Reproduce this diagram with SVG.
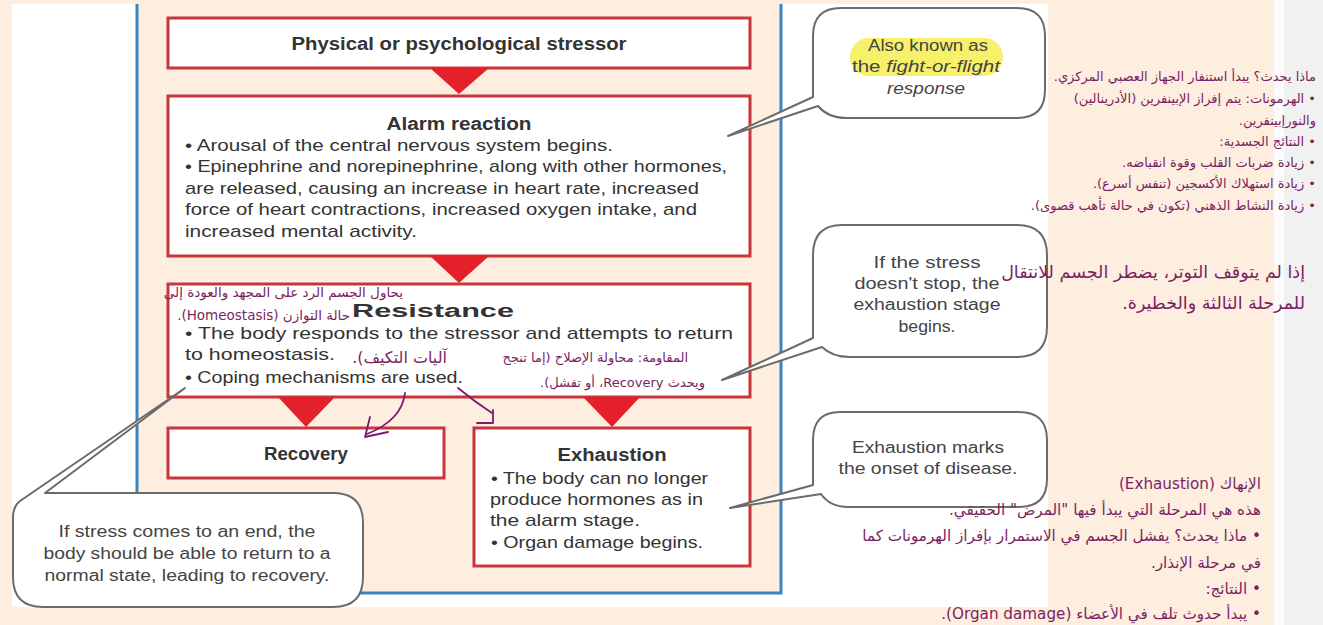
<svg xmlns="http://www.w3.org/2000/svg" width="1323" height="625" viewBox="0 0 1323 625">
<style>
.box{fill:#fff;stroke:#c8363b;stroke-width:3}
.tri{fill:#e4212a}
.bub{fill:#fff;stroke:#6b6b6b;stroke-width:2;stroke-linejoin:round}
.en{font-family:"Liberation Sans",Arial,sans-serif;fill:#333;font-size:17px}
.ttl{font-weight:bold;font-size:18px;text-anchor:middle}
.bt{font-family:"Liberation Sans",Arial,sans-serif;fill:#444;font-size:16px;text-anchor:middle}
.ar{font-family:"DejaVu Sans",sans-serif;fill:#7a1f60;direction:rtl;text-anchor:start}
.pa{fill:none;stroke:#7a1a6e;stroke-width:1.8;stroke-linecap:round;stroke-linejoin:round}
</style>
<!-- background -->
<rect x="0" y="0" width="1323" height="625" fill="#fdeee0"/>
<rect x="1274" y="0" width="49" height="625" fill="#fbfbfb"/>
<rect x="1284" y="0" width="39" height="625" fill="#f1f1f1"/>
<rect x="12" y="4" width="1036" height="603" fill="#fff"/>
<rect x="138" y="4" width="643" height="589" fill="#fdeee0"/>
<g fill="none" stroke="#3a85c0" stroke-width="3">
<path d="M137,4 V593 H781 V4"/>
</g>

<g id="stressor">
<rect class="box" x="168" y="18" width="582" height="50"/>
<text class="en ttl" x="459" y="50" textLength="335" lengthAdjust="spacingAndGlyphs">Physical or psychological stressor</text>
</g>

<g id="alarm">
<rect class="box" x="168" y="96" width="582" height="160"/>
<text class="en ttl" x="459" y="130" textLength="145" lengthAdjust="spacingAndGlyphs">Alarm reaction</text>
<text class="en" x="185" y="151" textLength="428" lengthAdjust="spacingAndGlyphs">• Arousal of the central nervous system begins.</text>
<text class="en" x="185" y="172" textLength="542" lengthAdjust="spacingAndGlyphs">• Epinephrine and norepinephrine, along with other hormones,</text>
<text class="en" x="185" y="194" textLength="514" lengthAdjust="spacingAndGlyphs">are released, causing an increase in heart rate, increased</text>
<text class="en" x="185" y="215" textLength="512" lengthAdjust="spacingAndGlyphs">force of heart contractions, increased oxygen intake, and</text>
<text class="en" x="185" y="237" textLength="232" lengthAdjust="spacingAndGlyphs">increased mental activity.</text>
</g>

<g id="resistance">
<rect class="box" x="168" y="284" width="582" height="113"/>
<text class="en ttl" x="433" y="317" textLength="162" lengthAdjust="spacingAndGlyphs">Resistance</text>
<text class="en" x="185" y="339" textLength="548" lengthAdjust="spacingAndGlyphs">• The body responds to the stressor and attempts to return</text>
<text class="en" x="185" y="360" textLength="150" lengthAdjust="spacingAndGlyphs">to homeostasis.</text>
<text class="en" x="185" y="383" textLength="278" lengthAdjust="spacingAndGlyphs">• Coping mechanisms are used.</text>
</g>

<g id="recovery">
<rect class="box" x="168" y="428" width="276" height="50"/>
<text class="en ttl" x="306" y="460" textLength="84" lengthAdjust="spacingAndGlyphs">Recovery</text>
</g>

<g id="exhaustion">
<rect class="box" x="474" y="428" width="276" height="138"/>
<text class="en ttl" x="612" y="461" textLength="109" lengthAdjust="spacingAndGlyphs">Exhaustion</text>
<text class="en" x="491" y="484" textLength="217" lengthAdjust="spacingAndGlyphs">• The body can no longer</text>
<text class="en" x="490" y="505" textLength="213" lengthAdjust="spacingAndGlyphs">produce hormones as in</text>
<text class="en" x="490" y="526" textLength="150" lengthAdjust="spacingAndGlyphs">the alarm stage.</text>
<text class="en" x="491" y="548" textLength="212" lengthAdjust="spacingAndGlyphs">• Organ damage begins.</text>
</g>

<g id="connectors">
<polygon class="tri" points="430,68 489,68 459,94"/>
<polygon class="tri" points="430,256 489,256 459,283"/>
<polygon class="tri" points="278,397 335,397 306,427"/>
<polygon class="tri" points="583,397 640,397 612,427"/>
<path class="pa" d="M405,393 Q402,420 367,434"/>
<path class="pa" d="M370,417 L365,437 L388,432"/>
<path class="pa" d="M458,388 Q475,402 492,413"/>
<path class="pa" d="M493,410 V423 H477"/>
</g>

<g id="callout-fight">
<path class="bub" d="M841,8 H1017 Q1045,8 1045,36 V90 Q1045,118 1017,118 H846 Q828,118 818,106 L728,136 L813,97 V36 Q813,8 841,8 Z"/>
<rect x="850" y="38" width="153" height="38" rx="19" fill="#f6f06a"/>
<text class="bt" x="928" y="51" textLength="120" lengthAdjust="spacingAndGlyphs">Also known as</text>
<text class="bt" x="926" y="72" textLength="148" lengthAdjust="spacingAndGlyphs">the <tspan font-style="italic">fight-or-flight</tspan></text>
<text class="bt" x="926" y="94" font-style="italic" textLength="78" lengthAdjust="spacingAndGlyphs">response</text>
</g>

<g id="callout-stress">
<path class="bub" d="M842,225 H1017 Q1047,225 1047,255 V327 Q1047,357 1017,357 H850 Q832,357 822,347 L722,380 L813,338 V255 Q813,225 842,225 Z"/>
<text class="bt" x="927" y="268" textLength="107" lengthAdjust="spacingAndGlyphs">If the stress</text>
<text class="bt" x="927" y="289" textLength="145" lengthAdjust="spacingAndGlyphs">doesn't stop, the</text>
<text class="bt" x="927" y="310" textLength="147" lengthAdjust="spacingAndGlyphs">exhaustion stage</text>
<text class="bt" x="927" y="332" textLength="57" lengthAdjust="spacingAndGlyphs">begins.</text>
</g>

<g id="callout-disease">
<path class="bub" d="M840,412 H1019 Q1047,412 1047,440 V479 Q1047,507 1019,507 H848 Q830,507 821,494 L730,508 L813,485 V440 Q813,412 840,412 Z"/>
<text class="bt" x="928" y="453" textLength="152" lengthAdjust="spacingAndGlyphs">Exhaustion marks</text>
<text class="bt" x="928" y="474" textLength="179" lengthAdjust="spacingAndGlyphs">the onset of disease.</text>
</g>

<g id="callout-recovery">
<path class="bub" d="M45,493 H333 Q363,493 363,523 V577 Q363,607 333,607 H43 Q13,607 13,577 V518 Q13,506 20,501 L185,388 Z"/>
<text class="bt" x="187" y="537" textLength="257" lengthAdjust="spacingAndGlyphs">If stress comes to an end, the</text>
<text class="bt" x="187" y="559" textLength="287" lengthAdjust="spacingAndGlyphs">body should be able to return to a</text>
<text class="bt" x="187" y="581" textLength="285" lengthAdjust="spacingAndGlyphs">normal state, leading to recovery.</text>
</g>

<g id="note-alarm" class="ar" font-size="13">
<text x="1316" y="81">ماذا يحدث؟ يبدأ استنفار الجهاز العصبي المركزي.</text>
<text x="1316" y="103">• الهرمونات: يتم إفراز الإبينفرين (الأدرينالين)</text>
<text x="1316" y="125">والنورإبينفرين.</text>
<text x="1316" y="146">• النتائج الجسدية:</text>
<text x="1316" y="167">• زيادة ضربات القلب وقوة انقباضه.</text>
<text x="1316" y="188">• زيادة استهلاك الأكسجين (تنفس أسرع).</text>
<text x="1316" y="210">• زيادة النشاط الذهني (تكون في حالة تأهب قصوى).</text>
</g>

<g id="note-stress" class="ar" font-size="17.5">
<text x="1305" y="278">إذا لم يتوقف التوتر، يضطر الجسم للانتقال</text>
<text x="1305" y="309">للمرحلة الثالثة والخطيرة.</text>
</g>

<g id="note-exhaustion" class="ar" font-size="15.2">
<text x="1261" y="489">الإنهاك (Exhaustion)</text>
<text x="1261" y="515">هذه هي المرحلة التي يبدأ فيها "المرض" الحقيقي.</text>
<text x="1261" y="541">• ماذا يحدث؟ يفشل الجسم في الاستمرار بإفراز الهرمونات كما</text>
<text x="1261" y="568">في مرحلة الإنذار.</text>
<text x="1261" y="594">• النتائج:</text>
<text x="1261" y="619">• يبدأ حدوث تلف في الأعضاء (Organ damage).</text>
</g>

<g id="note-resistance" class="ar" font-size="13.5">
<text x="403" y="297">يحاول الجسم الرد على المجهد والعودة إلى</text>
<text x="350" y="320">حالة التوازن (Homeostasis).</text>
</g>

<g id="note-coping" class="ar" font-size="16">
<text x="447" y="363">آليات التكيف).</text>
</g>

<g id="note-repair" class="ar" font-size="13">
<text x="688" y="362">المقاومة: محاولة الإصلاح (إما تنجح</text>
<text x="705" y="387">ويحدث Recovery، أو تفشل).</text>
</g>
</svg>
